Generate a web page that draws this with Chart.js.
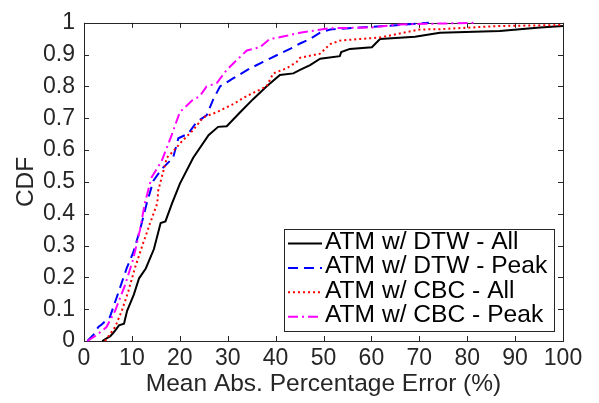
<!DOCTYPE html>
<html>
<head>
<meta charset="utf-8">
<script src="https://cdn.jsdelivr.net/npm/chart.js@4"></script>
<style>
html, body { margin: 0; padding: 0; background: #fff; }
</style>
</head>
<body>
<canvas id="cdfChart" width="599" height="403"></canvas>
<script>
// CDF of mean abs. percentage error, four ATM variants
const dtwAllX = [3.8, 5.5, 6.3, 7.3, 8.35, 9.0, 10.4, 11.5, 12.9, 14.6, 16.0, 17.0, 18.4, 20.0, 22.8, 26.0, 28.0, 29.8, 32.6, 35.3, 38.1, 40.9, 43.7, 45.1, 47.2, 49.3, 53.4, 53.7, 55.5, 60.1, 61.8, 69.1, 74.3, 86.8, 95.2, 100];
const dtwAllY = [0, 0.015, 0.029, 0.049, 0.054, 0.095, 0.146, 0.197, 0.228, 0.289, 0.371, 0.376, 0.433, 0.494, 0.576, 0.647, 0.673, 0.675, 0.719, 0.76, 0.80, 0.836, 0.841, 0.852, 0.867, 0.887, 0.895, 0.908, 0.918, 0.923, 0.949, 0.956, 0.969, 0.974, 0.985, 0.99];

const dtwPeakX = [0.7, 2.0, 3.0, 3.7, 5.4, 6.8, 8.9, 10.3, 11.7, 13.1, 14.5, 16.2, 18.6, 19.7, 21.8, 23.5, 25.6, 27.0, 28.4, 31.2, 34.7, 37.4, 40.9, 43.7, 45.1, 47.2, 49.3, 51.4, 57.6, 66.0, 72.0];
const dtwPeakY = [0, 0.02, 0.044, 0.052, 0.075, 0.136, 0.228, 0.279, 0.35, 0.433, 0.504, 0.54, 0.576, 0.637, 0.652, 0.688, 0.709, 0.76, 0.80, 0.826, 0.857, 0.877, 0.903, 0.923, 0.935, 0.949, 0.969, 0.979, 0.985, 0.993, 1.0];

const cbcAllX = [4.4, 6.5, 7.9, 9.25, 10.6, 12.4, 13.8, 15.3, 15.5, 17.3, 18.6, 20.4, 22.8, 24.9, 27.7, 31.2, 34.0, 38.1, 39.5, 42.3, 44.4, 45.1, 49.3, 51.4, 53.4, 57.6, 61.8, 70.1, 74.3, 86.8, 100];
const cbcAllY = [0, 0.044, 0.095, 0.156, 0.228, 0.31, 0.37, 0.433, 0.473, 0.576, 0.596, 0.627, 0.663, 0.703, 0.719, 0.745, 0.77, 0.80, 0.841, 0.857, 0.877, 0.89, 0.903, 0.933, 0.944, 0.949, 0.954, 0.979, 0.98, 0.99, 0.993];

const cbcPeakX = [0.7, 2.6, 4.7, 6.5, 8.6, 10.3, 11.7, 12.7, 14.1, 16.2, 18.3, 20.0, 22.5, 24.2, 25.6, 27.7, 29.8, 31.9, 34.0, 36.7, 38.8, 42.3, 45.1, 51.4, 59.7, 66.0, 82.0];
const cbcPeakY = [0, 0.018, 0.044, 0.095, 0.177, 0.259, 0.35, 0.433, 0.514, 0.565, 0.647, 0.719, 0.755, 0.77, 0.80, 0.81, 0.852, 0.883, 0.913, 0.923, 0.949, 0.959, 0.969, 0.983, 0.985, 0.995, 1.0];

const seriesNames = ['ATM w/ DTW - All', 'ATM w/ DTW - Peak', 'ATM w/ CBC - All', 'ATM w/ CBC - Peak'];
const xTicks = [0, 10, 20, 30, 40, 50, 60, 70, 80, 90, 100];
const yTicks = [0, 0.1, 0.2, 0.3, 0.4, 0.5, 0.6, 0.7, 0.8, 0.9, 1];

const FONT = "'Liberation Sans', Arial, sans-serif";
const AXIS_COLOR = '#262626';

const toPoints = (xs, ys) => xs.map((x, i) => ({ x: x, y: ys[i] }));

const makeSet = (label, xs, ys, color, dash, order) => ({
    label: label,
    data: toPoints(xs, ys),
    borderColor: color,
    backgroundColor: color,
    borderWidth: 2,
    borderDash: dash,
    pointRadius: 0,
    showLine: true,
    tension: 0,
    clip: 4,
    order: order
});

// box around plot + inward ticks on all four sides
const frameTicks = {
    id: 'frameTicks',
    beforeDatasetsDraw(chart) {
        const { ctx, chartArea: a, scales } = chart;
        ctx.save();
        ctx.strokeStyle = AXIS_COLOR;
        ctx.lineWidth = 1;
        ctx.strokeRect(Math.round(a.left) + 0.5, Math.round(a.top) + 0.5, Math.round(a.right - a.left), Math.round(a.bottom - a.top));
        ctx.beginPath();
        xTicks.forEach(v => {
            const px = Math.round(scales.x.getPixelForValue(v)) + 0.5;
            ctx.moveTo(px, a.bottom); ctx.lineTo(px, a.bottom - 5);
            ctx.moveTo(px, a.top); ctx.lineTo(px, a.top + 5);
        });
        yTicks.forEach(v => {
            const py = Math.round(scales.y.getPixelForValue(v)) + 0.5;
            ctx.moveTo(a.left, py); ctx.lineTo(a.left + 5, py);
            ctx.moveTo(a.right, py); ctx.lineTo(a.right - 5, py);
        });
        ctx.stroke();
        ctx.restore();
    }
};

// legend box in lower right, MATLAB style
const boxLegend = {
    id: 'boxLegend',
    afterDraw(chart) {
        const ctx = chart.ctx;
        const left = 284, top = 229, w = 270, h = 102;
        ctx.save();
        ctx.fillStyle = '#fff';
        ctx.fillRect(left, top, w, h);
        ctx.strokeStyle = AXIS_COLOR;
        ctx.lineWidth = 1;
        ctx.strokeRect(left + 0.5, top + 0.5, w, h);
        chart.data.datasets.forEach((ds, i) => {
            const cy = top + 13 + i * 24.4;
            ctx.beginPath();
            ctx.strokeStyle = ds.borderColor;
            ctx.lineWidth = 2;
            ctx.setLineDash(ds.borderDash);
            ctx.moveTo(288, cy + 1.5);
            ctx.lineTo(322, cy + 1.5);
            ctx.stroke();
            ctx.setLineDash([]);
            ctx.fillStyle = '#000';
            ctx.font = '24.6px ' + FONT;
            ctx.textAlign = 'left';
            ctx.textBaseline = 'middle';
            ctx.fillText(ds.label, 325, cy);
        });
        ctx.restore();
    }
};

const ctx = document.getElementById('cdfChart');

new Chart(ctx, {
    type: 'scatter',
    data: {
        datasets: [
            makeSet(seriesNames[0], dtwAllX, dtwAllY, '#000000', [], 4),
            makeSet(seriesNames[1], dtwPeakX, dtwPeakY, '#0000ff', [10, 6], 3),
            makeSet(seriesNames[2], cbcAllX, cbcAllY, '#ff0000', [2, 3], 2),
            makeSet(seriesNames[3], cbcPeakX, cbcPeakY, '#ff00ff', [10, 4, 2, 4], 1)
        ]
    },
    options: {
        responsive: false,
        animation: false,
        devicePixelRatio: 1,
        layout: { padding: { left: 0, top: 15, right: 36, bottom: 0 } },
        plugins: {
            legend: { display: false },
            tooltip: { enabled: false }
        },
        scales: {
            x: {
                type: 'linear',
                min: 0,
                max: 100,
                afterFit: s => { s.height = 62; },
                afterBuildTicks: s => { s.ticks = xTicks.map(v => ({ value: v })); },
                grid: { display: false, drawTicks: false },
                border: { display: false },
                ticks: {
                    padding: 4,
                    color: AXIS_COLOR,
                    font: { family: FONT, size: 23 },
                    maxRotation: 0,
                    autoSkip: false
                },
                title: {
                    display: true,
                    text: 'Mean Abs. Percentage Error (%)',
                    color: AXIS_COLOR,
                    font: { family: FONT, size: 24.5 },
                    padding: { top: 0, bottom: 4 }
                }
            },
            y: {
                type: 'linear',
                min: 0,
                max: 1,
                afterFit: s => { s.width = 84; },
                afterBuildTicks: s => { s.ticks = yTicks.map(v => ({ value: v })); },
                grid: { display: false, drawTicks: false },
                border: { display: false },
                ticks: {
                    padding: 9,
                    color: AXIS_COLOR,
                    font: { family: FONT, size: 23 },
                    autoSkip: false,
                    callback: v => String(Number(v.toFixed(1)))
                },
                title: {
                    display: true,
                    text: 'CDF',
                    color: AXIS_COLOR,
                    font: { family: FONT, size: 24.5 },
                    padding: { top: 12, bottom: 0 }
                }
            }
        }
    },
    plugins: [frameTicks, boxLegend]
});
</script>
</body>
</html>
